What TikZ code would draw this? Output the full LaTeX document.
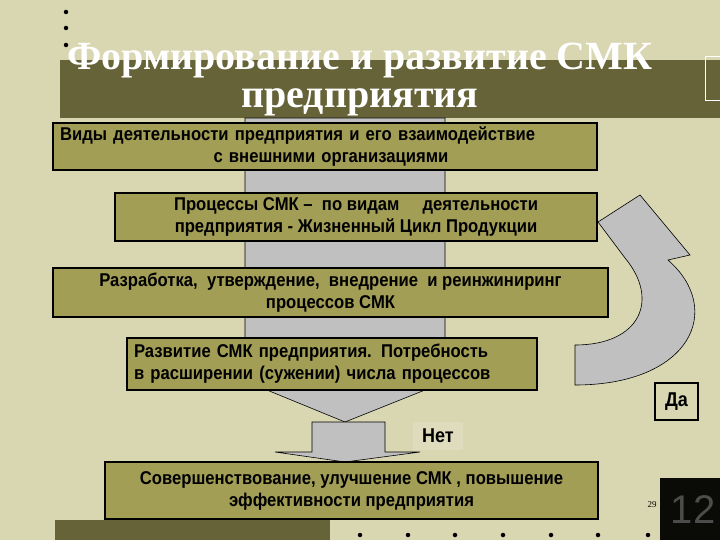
\documentclass[tikz,border=0pt]{standalone}
\usepackage{fontspec}
\setmainfont{Liberation Sans}
\newfontfamily\boxfont[FakeStretch=0.9]{Liberation Sans}
\newfontfamily\titlefont{Liberation Serif}
\definecolor{bg}{HTML}{D9D6B2}
\definecolor{band}{HTML}{656337}
\definecolor{boxc}{HTML}{A29E55}
\definecolor{arr}{HTML}{C0C0C0}
\tikzset{
 stepbox/.style={draw=black,line width=1.6pt,fill=boxc,align=center,font=\boxfont\bfseries\fontsize{18.5}{22}\selectfont,inner sep=0pt},
 dotm/.style={circle,fill=black,inner sep=0pt,minimum size=4.5pt},
 garr/.style={fill=arr,draw=black,line width=0.6pt}
}
\begin{document}
\begin{tikzpicture}[x=1pt,y=-1pt]
\useasboundingbox (0,0) rectangle (720,540);
\fill[bg] (0,0) rectangle (720,540);
\fill[band] (60,60) rectangle (720,118);
\draw[white,line width=0.8pt] (705,56) rectangle (722,100);
\fill[band] (55,520) rectangle (330,540);
\foreach \y in {12,28,45} \node[dotm] at (66,\y) {};
\foreach \x in {360,408,455,503,551,598,648} \node[dotm] at (\x,535) {};
% big arrow
\draw[garr] (245,118) -- (445,118) -- (445,388) -- (430,388) -- (345,422) -- (262,388) -- (245,388) -- cycle;
\draw[garr] (312,422) -- (385,422) -- (385,452) -- (420,452) -- (345,462) -- (275,452) -- (312,452) -- cycle;
% curved arrow
\draw[garr] (575,385) .. controls (690,385) and (725,310) .. (668,260) -- (690,255) -- (640,195) -- (598,222) -- (625,258) .. controls (660,300) and (640,345) .. (575,345) -- cycle;
\node[font=\titlefont\bfseries\fontsize{40}{38}\selectfont,text=white,align=center] (t) at (360,80) {Формирование и развитие СМК\\предприятия};
\node[stepbox,minimum width=544pt,minimum height=47pt,text width=530pt,align=left] (b1) at (325,146.5) {Виды деятельности предприятия и его взаимодействие\\\hspace*{8.3em}с внешними организациями};
\node[stepbox,minimum width=482pt,minimum height=48pt] (b2) at (356,217) {Процессы СМК –\ \ по видам \quad деятельности\\предприятия - Жизненный Цикл Продукции};
\node[stepbox,minimum width=555pt,minimum height=49pt] (b3) at (330.5,292.5) {Разработка,\ \ утверждение,\ \ внедрение\ \ и реинжиниринг\\процессов СМК};
\node[stepbox,minimum width=410pt,minimum height=52pt,text width=396pt,align=left] (b4) at (332,364) {Развитие СМК предприятия. Потребность\\в расширении (сужении) числа процессов};
\node[stepbox,minimum width=493pt,minimum height=57pt] (b5) at (351.5,490.5) {Совершенствование, улучшение СМК , повышение\\эффективности предприятия};
\node[draw=black,line width=1.2pt,fill=bg,font=\boxfont\bfseries\fontsize{20}{22}\selectfont,minimum width=43pt,minimum height=37pt,inner sep=0pt] (da) at (676.5,401.5) {Да};
\node[fill=bg!85!white,font=\boxfont\bfseries\fontsize{20}{22}\selectfont,minimum width=50pt,minimum height=28pt,inner sep=0pt] (net) at (438,436) {Нет};
\fill[black!90!band] (660,478) rectangle (720,540);
\node[text=black!70,font=\fontsize{40}{40}\selectfont] (n12) at (693,510) {12};
\node[font=\titlefont\fontsize{9}{10}\selectfont] (p29) at (652,505) {29};
\end{tikzpicture}
\end{document}
